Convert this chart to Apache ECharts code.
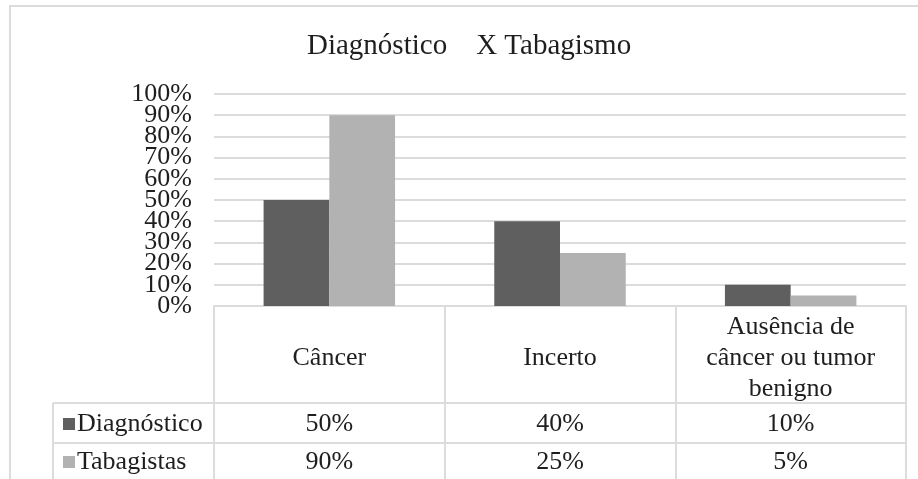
<!DOCTYPE html>
<html>
<head>
<meta charset="utf-8">
<script src="https://cdn.jsdelivr.net/npm/echarts@6/dist/echarts.min.js"></script>
<style>
  html, body { margin: 0; padding: 0; background: #ffffff; }
  #chart { width: 918px; height: 479px; }
</style>
</head>
<body>
<div id="chart"></div>
<script>
// Diagnosis outcome vs. smoking, shown as grouped bars over a data table
const categories = ['Câncer', 'Incerto', 'Ausência de\ncâncer ou tumor\nbenigno'];
const seriesNames = ['Diagnóstico', 'Tabagistas'];
const diagnostico = [0.50, 0.40, 0.10];
const tabagistas = [0.90, 0.25, 0.05];
const colors = ['#5f5f5f', '#b2b2b2'];

const FONT = 'Liberation Serif, Times New Roman, serif';
const TEXT = '#1e1e1e';
const LINE = '#dcdcdc';
const pct = v => Math.round(v * 100) + '%';
const isOddTenth = v => Math.round(v * 10) % 2 === 1;

const chart = echarts.init(document.getElementById('chart'), null, { renderer: 'canvas' });

// The percent labels sit closer together than their font height, so they are
// split over two overlaid axes (odd tenths / even tenths) to keep all of them visible.
const yLabelStyle = { margin: 22, fontFamily: FONT, fontSize: 26, color: TEXT };

chart.setOption({
  backgroundColor: '#ffffff',
  animation: false,
  title: {
    text: 'Diagnóstico    X Tabagismo',
    left: 307,
    top: 32,
    padding: 0,
    textStyle: { fontFamily: FONT, fontSize: 29, fontWeight: 'normal', color: TEXT }
  },
  grid: { left: 214, right: 12, top: 94, bottom: 173, containLabel: false },
  xAxis: {
    type: 'category',
    data: categories,
    axisLine: { show: true, lineStyle: { color: LINE, width: 2 } },
    axisTick: { show: true, interval: 0, alignWithLabel: false, length: 175, lineStyle: { color: LINE, width: 2 } },
    axisLabel: {
      interval: 0,
      margin: 52,
      verticalAlign: 'middle',
      fontFamily: FONT,
      fontSize: 26,
      lineHeight: 31,
      color: TEXT
    }
  },
  yAxis: [
    {
      type: 'value',
      position: 'left',
      min: 0,
      max: 1,
      interval: 0.1,
      axisLine: { show: false },
      axisTick: { show: false },
      axisLabel: Object.assign({ formatter: v => (isOddTenth(v) ? pct(v) : '') }, yLabelStyle),
      splitLine: { lineStyle: { color: LINE, width: 2 } }
    },
    {
      type: 'value',
      position: 'left',
      min: 0,
      max: 1,
      interval: 0.2,
      axisLine: { show: false },
      axisTick: { show: false },
      axisLabel: Object.assign({ formatter: v => pct(v) }, yLabelStyle),
      splitLine: { show: false }
    }
  ],
  series: [
    { name: seriesNames[0], type: 'bar', data: diagnostico, barGap: '0%', barCategoryGap: '43%', itemStyle: { color: colors[0] } },
    { name: seriesNames[1], type: 'bar', data: tabagistas, barGap: '0%', barCategoryGap: '43%', itemStyle: { color: colors[1] } }
  ]
});

// Data table under the axis: legend keys in the first column, values under each category
function drawTable() {
  const rowsY = [424, 462];
  const rowValues = [diagnostico, tabagistas];
  const left = 53, right = 906;
  const g = [];

  // outer frame of the chart area
  g.push({ type: 'rect', shape: { x: 10, y: 6, width: 930, height: 500 }, style: { fill: null, stroke: LINE, lineWidth: 2 }, silent: true });

  // row separators and left edge of the key column
  [403, 443].forEach(y => {
    g.push({ type: 'line', shape: { x1: left, y1: y, x2: right, y2: y }, style: { stroke: LINE, lineWidth: 2 } });
  });
  g.push({ type: 'line', shape: { x1: left, y1: 403, x2: left, y2: 480 }, style: { stroke: LINE, lineWidth: 2 } });

  rowValues.forEach((vals, r) => {
    // legend key
    g.push({ type: 'rect', shape: { x: 63, y: rowsY[r] - 6, width: 12, height: 12 }, style: { fill: colors[r] } });
    g.push({ type: 'text', x: 77, y: rowsY[r], style: { text: seriesNames[r], fontFamily: FONT, fontSize: 26, fill: TEXT, align: 'left', verticalAlign: 'middle' } });
    // values
    vals.forEach((v, i) => {
      const x = chart.convertToPixel({ xAxisIndex: 0 }, i);
      g.push({ type: 'text', x: x, y: rowsY[r], style: { text: pct(v), fontFamily: FONT, fontSize: 26, fill: TEXT, align: 'center', verticalAlign: 'middle' } });
    });
  });

  chart.setOption({ graphic: { elements: g } });
}
drawTable();
</script>
</body>
</html>
